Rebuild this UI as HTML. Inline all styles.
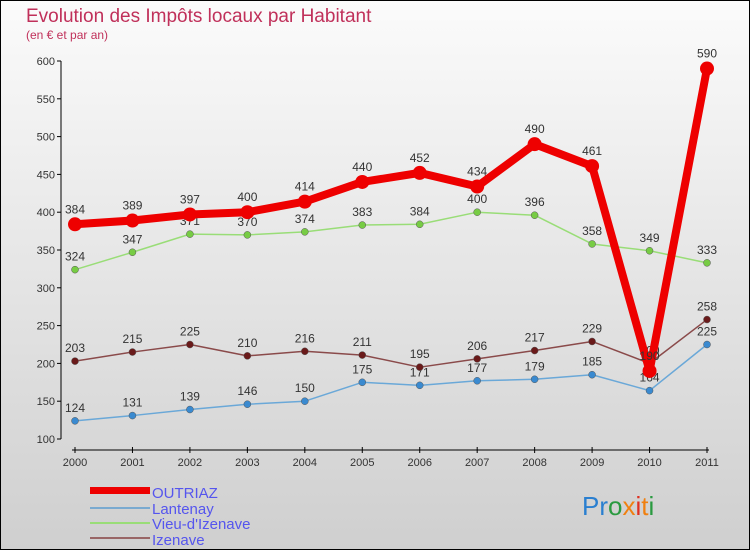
<!DOCTYPE html>
<html><head><meta charset="utf-8"><style>
body{margin:0;}
#c{width:750px;height:550px;position:relative;overflow:hidden;}
svg text{font-family:"Liberation Sans",sans-serif;}
</style></head><body>
<div id="c">
<svg id="s" width="750" height="550" xmlns="http://www.w3.org/2000/svg">
<defs><linearGradient id="bg" x1="0" y1="0" x2="0" y2="1"><stop offset="0" stop-color="#fbfbfb"/><stop offset="1" stop-color="#cfcfcf"/></linearGradient></defs>
<rect x="0.5" y="0.5" width="749" height="549" fill="url(#bg)" stroke="#000"/>
<text x="26" y="22" font-size="19" fill="#c0305a">Evolution des Impôts locaux par Habitant</text>
<text x="26" y="39" font-size="12" fill="#c0305a">(en € et par an)</text>
<g id="axes"></g>
<g id="series"></g>
<g>
<rect x="90" y="487" width="60" height="7" fill="#e00"/>
<text x="152" y="498" font-size="15" fill="#5555ee">OUTRIAZ</text>
<line x1="90" y1="508" x2="150" y2="508" stroke="#7aaad0" stroke-width="2"/>
<text x="152" y="514" font-size="15" fill="#5555ee">Lantenay</text>
<line x1="90" y1="523" x2="150" y2="523" stroke="#99dd77" stroke-width="2"/>
<text x="152" y="529" font-size="15" fill="#5555ee">Vieu-d'Izenave</text>
<line x1="90" y1="538" x2="150" y2="538" stroke="#996666" stroke-width="2"/>
<text x="152" y="545" font-size="15" fill="#5555ee">Izenave</text>
</g>
<g font-size="26" font-family="Liberation Sans">
<text x="582" y="515"><tspan fill="#2a7fd0">Pr</tspan><tspan fill="#2a9a40">o</tspan><tspan fill="#f08010">x</tspan><tspan fill="#e03020">i</tspan><tspan fill="#f08010">t</tspan><tspan fill="#2a9a40">i</tspan></text>
</g>
</svg></div>
<script>
const years=[2000,2001,2002,2003,2004,2005,2006,2007,2008,2009,2010,2011];
const yTicks=[100,150,200,250,300,350,400,450,500,550,600];
const outriaz=[384,389,397,400,414,440,452,434,490,461,190,590];
const lantenay=[124,131,139,146,150,175,171,177,179,185,164,225];
const vieu=[324,347,371,370,374,383,384,400,396,358,349,333];
const izenave=[203,215,225,210,216,211,195,206,217,229,200,258];
const NS="http://www.w3.org/2000/svg";
const X=i=>75+i*(707-75)/11;
const Y=v=>439-(v-100)*(439-61)/500;
function mk(p,t,a){const e=document.createElementNS(NS,t);for(const k in a)e.setAttribute(k,a[k]);p.appendChild(e);return e;}
const ax=document.getElementById('axes');
let yl=mk(ax,'line',{x1:61,y1:61,x2:61,y2:439,stroke:'#000'});


yTicks.forEach(v=>{mk(ax,'line',{x1:57,x2:61,y1:Y(v),y2:Y(v),stroke:'#000'});
const t=mk(ax,'text',{x:55,y:Y(v)+4,'font-size':11,'text-anchor':'end',fill:'#333'});t.textContent=v;

});
let xl=mk(ax,'line',{x1:72,y1:450,x2:709,y2:450,stroke:'#000'});


years.forEach((y,i)=>{mk(ax,'line',{x1:X(i),x2:X(i),y1:447,y2:453,stroke:'#000'});
const t=mk(ax,'text',{x:X(i),y:466,'font-size':11,'text-anchor':'middle',fill:'#333'});t.textContent=y;

});
const sg=document.getElementById('series');
function draw(arr,name,lc,pc,w,r){
const g=mk(sg,'g',{});


const pl=mk(g,'polyline',{points:arr.map((v,i)=>X(i)+','+Y(v)).join(' '),fill:'none',stroke:lc,'stroke-width':w,'stroke-linejoin':'round'});


arr.forEach((v,i)=>{const c=mk(g,'circle',{cx:X(i),cy:Y(v),r:r,fill:pc,stroke:w>3?'none':'#555','stroke-width':0.5});


const t=mk(g,'text',{x:X(i),y:Y(v)-9-(w>3?2:0),'font-size':12,'text-anchor':'middle',fill:'#333'});t.textContent=v;

});
}
draw(vieu,'vieu-d-izenave','#99dd77','#77cc44',1.5,3.5);
draw(lantenay,'lantenay','#6aa8d8','#3a8ad0',1.5,3.5);
draw(izenave,'izenave','#8a4a4a','#6a1a1a',1.5,3.5);
draw(outriaz,'outriaz','#ee0000','#ee0000',8,7);
</script>
</body></html>
